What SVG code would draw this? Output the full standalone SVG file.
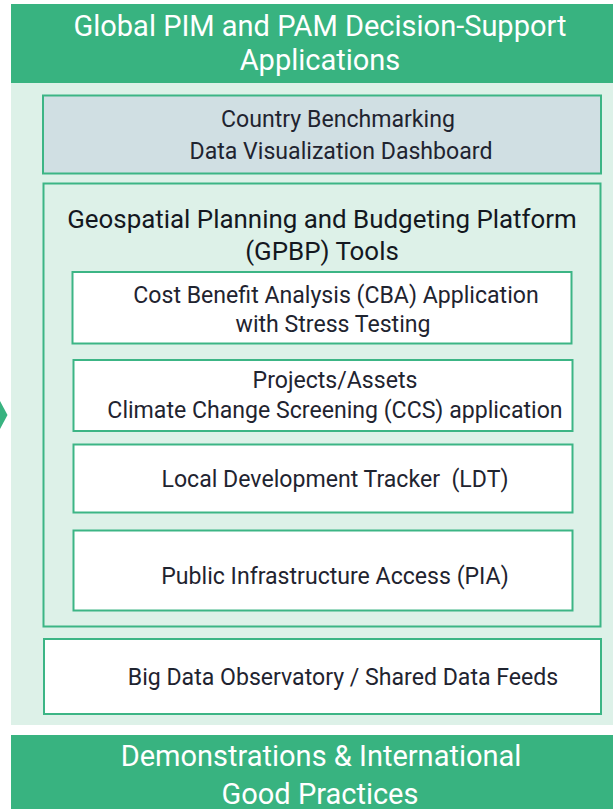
<svg xmlns="http://www.w3.org/2000/svg" width="613" height="809" viewBox="0 0 613 809">
<style>
text{font-family:Roboto,"Liberation Sans",sans-serif;fill:#1f2430;text-anchor:middle}
.h{fill:#fff;font-size:29px}
.t{font-size:23.1px}
.g{font-size:25.900px;fill:#14181f}
.banner{fill:#38b380}
.box{stroke:#3cb585;stroke-width:2;fill:#fff}
</style>
<rect width="613" height="809" fill="#fff"/>
<rect id="panel" x="11" y="83" width="602" height="642" fill="#ddf1e8"/>
<g id="top-banner"><rect class="banner" x="11" y="4" width="602" height="79"/>
<text class="h" x="320" y="36">Global PIM and PAM Decision-Support</text>
<text class="h" x="320" y="70">Applications</text></g>
<g id="dashboard"><rect class="box" x="43" y="95.500" width="558" height="78" style="fill:#d0dfe3"/>
<text class="t" x="338" y="127">Country Benchmarking</text>
<text class="t" x="341" y="159">Data Visualization Dashboard</text></g>
<g id="gpbp"><rect class="box" x="43.500" y="183.500" width="557" height="443" style="fill:#ddf1e8"/>
<text class="g" x="322" y="228">Geospatial Planning and Budgeting Platform</text>
<text class="g" x="322" y="260">(GPBP) Tools</text></g>
<g id="cba"><rect class="box" x="72.500" y="272" width="499" height="71.500"/>
<text class="t" x="336" y="303">Cost Benefit Analysis (CBA) Application</text>
<text class="t" x="333" y="332">with Stress Testing</text></g>
<g id="ccs"><rect class="box" x="73.500" y="360" width="499" height="71"/>
<text class="t" x="335" y="388">Projects/Assets</text>
<text class="t" x="335" y="418">Climate Change Screening (CCS) application</text></g>
<g id="ldt"><rect class="box" x="73.500" y="444.500" width="499" height="68"/>
<text class="t" x="335" y="487" xml:space="preserve">Local Development Tracker  (LDT)</text></g>
<g id="pia"><rect class="box" x="73.500" y="530.500" width="499" height="80"/>
<text class="t" x="335" y="584">Public Infrastructure Access (PIA)</text></g>
<g id="big-data"><rect class="box" x="44" y="639" width="557" height="75"/>
<text class="t" x="343" y="685">Big Data Observatory / Shared Data Feeds</text></g>
<g id="bottom-banner"><rect class="banner" x="11" y="735" width="602" height="74"/>
<text class="h" x="321" y="766">Demonstrations &amp; International</text>
<text class="h" x="320" y="804">Good Practices</text></g>
<path id="marker" d="M0 401L7.500 415L0 429Z" fill="#38b380"/>
</svg>
